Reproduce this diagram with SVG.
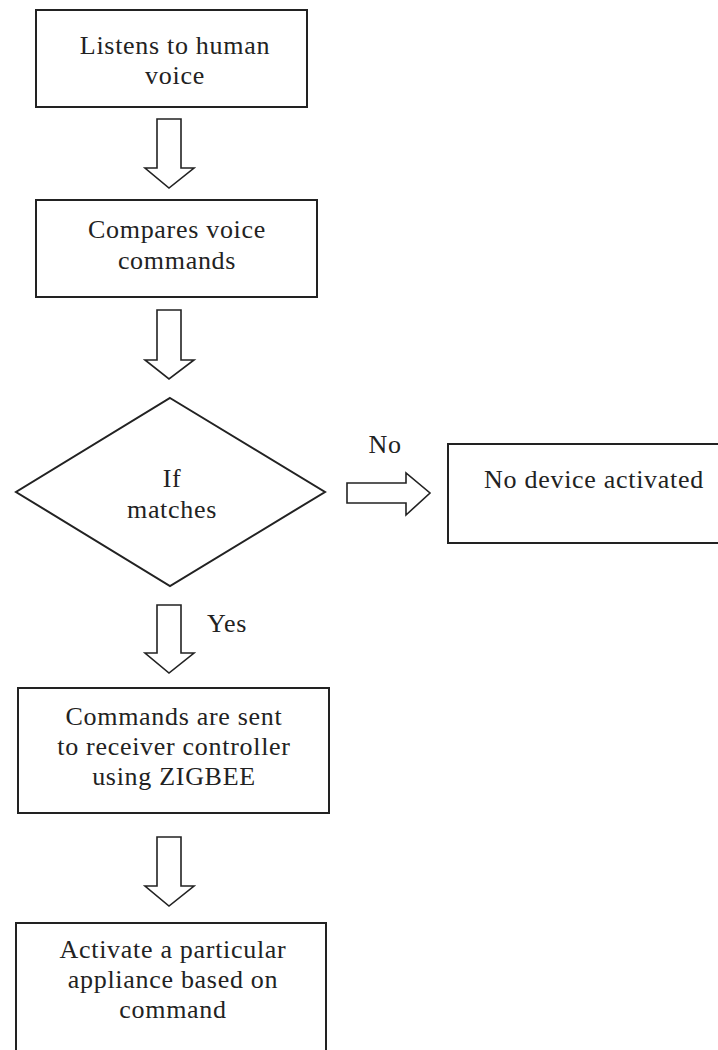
<svg xmlns="http://www.w3.org/2000/svg" width="718" height="1050" viewBox="0 0 718 1050">
<style>
.box{fill:#fff;stroke:#222;stroke-width:2}
.arr{fill:#fff;stroke:#222;stroke-width:1.6;stroke-linejoin:miter}
text{font-family:"Liberation Serif","DejaVu Serif","Times New Roman",serif;font-size:26px;fill:#222;text-anchor:middle;letter-spacing:0.7px}
</style>
<rect width="718" height="1050" fill="#fff"/>
<g id="connectors">
<path class="arr" d="M157,119 H181 V168 H194 L169,188 L145,168 H157 Z"/>
<path class="arr" d="M157,310 H181 V360 H194 L169,379 L145,360 H157 Z"/>
<path class="arr" d="M347,483 H406 V473 L430,493 L406,515 V503 H347 Z"/>
<path class="arr" d="M157,605 H181 V653 H194 L169,673 L145,653 H157 Z"/>
<path class="arr" d="M157,837 H181 V886 H194 L169,906 L145,886 H157 Z"/>
<text x="385" y="453">No</text>
<text x="227" y="632">Yes</text>
</g>
<g id="n1">
<rect class="box" x="36" y="10" width="271" height="97"/>
<text x="175" y="54">Listens to human</text>
<text x="175" y="84">voice</text>
</g>
<g id="n2">
<rect class="box" x="36" y="200" width="281" height="97"/>
<text x="177" y="238">Compares voice</text>
<text x="177" y="269">commands</text>
</g>
<g id="n3">
<path class="box" d="M170,398 L325,492 L170,586 L16,492 Z" stroke-width="1.6"/>
<text x="172" y="487">If</text>
<text x="172" y="518">matches</text>
</g>
<g id="n4">
<rect class="box" x="448" y="444" width="280" height="99"/>
<text x="594" y="488">No device activated</text>
</g>
<g id="n5">
<rect class="box" x="18" y="688" width="311" height="125"/>
<text x="174" y="725">Commands are sent</text>
<text x="174" y="755">to receiver controller</text>
<text x="174" y="785">using ZIGBEE</text>
</g>
<g id="n6">
<rect class="box" x="16" y="923" width="310" height="140"/>
<text x="173" y="958">Activate a particular</text>
<text x="173" y="988">appliance based on</text>
<text x="173" y="1018">command</text>
</g>
</svg>
